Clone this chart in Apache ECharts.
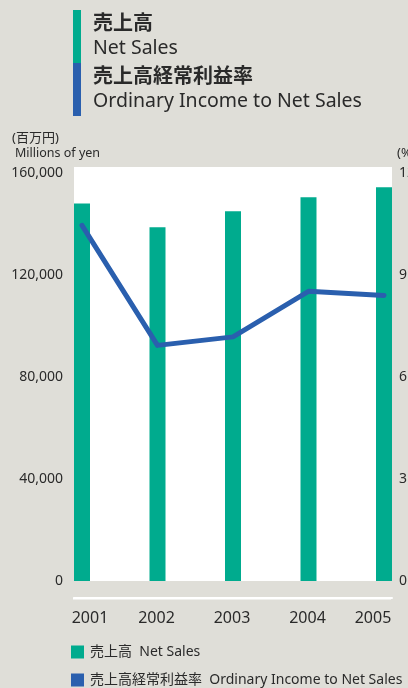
<!DOCTYPE html>
<html>
<head>
<meta charset="utf-8">
<script src="https://cdn.jsdelivr.net/npm/echarts@6/dist/echarts.min.js"></script>
<style>
html,body{margin:0;padding:0;background:#dfded8;}
#c{width:408px;height:688px;}
</style>
</head>
<body>
<div id="c"></div>
<script>
var years = [2001, 2002, 2003, 2004, 2005];
var netSales = [148000, 138700, 145000, 150500, 154400];
var ordinaryRatio = [10.46, 6.93, 7.18, 8.52, 8.40];
var leftTicks = [0, 40000, 80000, 120000, 160000];
var rightTicks = [0, 3, 6, 9, 12];
var nameSales = '売上高  Net Sales';
var nameRatio = '売上高経常利益率  Ordinary Income to Net Sales';

var FONT = '"Noto Sans", "Noto Sans CJK JP", sans-serif';
var TXT = '#2a2a2a';
var GREEN = '#00ab8e';
var BLUE = '#2a5fae';

var chart = echarts.init(document.getElementById('c'));
var labStyle = function (pad) {
  return { fontSize: 16, fontFamily: FONT, color: TXT, padding: pad };
};
var legendBase = function (name, top) {
  return {
    orient: 'vertical',
    left: 71,
    top: top,
    padding: 0,
    itemWidth: 13,
    itemHeight: 13,
    icon: 'rect',
    textStyle: { fontSize: 14, fontFamily: FONT, color: TXT, padding: [0, 0, 0, 1] },
    data: [name]
  };
};
chart.setOption({
  backgroundColor: '#dfded8',
  animation: false,
  textStyle: { fontFamily: FONT },
  graphic: [
    { type: 'rect', shape: { x: 73, y: 10, width: 8, height: 53 }, style: { fill: GREEN } },
    { type: 'rect', shape: { x: 73, y: 63, width: 8, height: 53 }, style: { fill: BLUE } },
    { type: 'line', shape: { x1: 73, y1: 598.5, x2: 391, y2: 598.5 }, style: { stroke: '#ffffff', lineWidth: 2 } },
    { type: 'text', x: 93, y: 24, style: { text: '売上高', fontSize: 20, fontWeight: 'bold', fontFamily: FONT, fill: TXT, verticalAlign: 'middle' } },
    { type: 'text', x: 93, y: 48, style: { text: 'Net Sales', fontSize: 19.5, fontFamily: FONT, fill: TXT, verticalAlign: 'middle' } },
    { type: 'text', x: 93, y: 77, style: { text: '売上高経常利益率', fontSize: 20, fontWeight: 'bold', fontFamily: FONT, fill: TXT, verticalAlign: 'middle' } },
    { type: 'text', x: 93, y: 101, style: { text: 'Ordinary Income to Net Sales', fontSize: 19.5, fontFamily: FONT, fill: TXT, verticalAlign: 'middle' } },
    { type: 'text', x: 12, y: 138, style: { text: '(百万円)', fontSize: 13, fontFamily: FONT, fill: TXT, verticalAlign: 'middle' } },
    { type: 'text', x: 15, y: 153, style: { text: 'Millions of yen', fontSize: 12.5, fontFamily: FONT, fill: TXT, verticalAlign: 'middle' } },
    { type: 'text', x: 397, y: 153, style: { text: '(%)', fontSize: 13, fontFamily: FONT, fill: TXT, verticalAlign: 'middle' } }
  ],
  legend: [legendBase(nameSales, 645), legendBase(nameRatio, 673)],
  grid: {
    left: 74, right: 16, top: 167, bottom: 107,
    outerBoundsMode: 'none',
    containLabel: false,
    show: true, backgroundColor: '#ffffff', borderWidth: 0
  },
  xAxis: {
    type: 'value',
    min: 2000.894,
    max: 2005.106,
    offset: 17,
    axisLine: { show: true, onZero: false, lineStyle: { color: '#ffffff', width: 2 } },
    axisTick: { show: false },
    splitLine: { show: false },
    axisLabel: {
      customValues: years,
      margin: 12,
      fontSize: 16,
      color: TXT,
      formatter: function (v) {
        var s = String(Math.round(v));
        if (Math.round(v) === years[0]) return '{a|' + s + '}';
        if (Math.round(v) === years[years.length - 1]) return '{e|' + s + '}';
        return '{m|' + s + '}';
      },
      rich: {
        a: labStyle([0, 0, 0, 16]),
        e: labStyle([0, 22, 0, 0]),
        m: labStyle([0, 2, 0, 0])
      }
    }
  },
  yAxis: [
    {
      type: 'value',
      min: 0,
      max: 162353,
      interval: 40000,
      axisLine: { show: false },
      axisTick: { show: false },
      splitLine: { show: false },
      axisLabel: {
        showMaxLabel: false,
        margin: 11,
        fontSize: 14,
        color: TXT,
        formatter: function (v) { return v.toLocaleString('en-US'); }
      }
    },
    {
      type: 'value',
      min: 0,
      max: 12.176,
      interval: 3,
      position: 'right',
      axisLine: { show: false },
      axisTick: { show: false },
      splitLine: { show: false },
      axisLabel: {
        showMaxLabel: false,
        margin: 7,
        fontSize: 14,
        color: TXT
      }
    }
  ],
  series: [
    {
      name: nameSales,
      type: 'bar',
      barWidth: 16,
      itemStyle: { color: GREEN },
      data: years.map(function (y, i) { return [y, netSales[i]]; })
    },
    {
      name: nameRatio,
      type: 'line',
      yAxisIndex: 1,
      showSymbol: false,
      symbol: 'none',
      z: 5,
      itemStyle: { color: BLUE },
      lineStyle: { color: BLUE, width: 5, cap: 'round', join: 'round' },
      data: years.map(function (y, i) { return [y, ordinaryRatio[i]]; })
    }
  ]
});
</script>
</body>
</html>
